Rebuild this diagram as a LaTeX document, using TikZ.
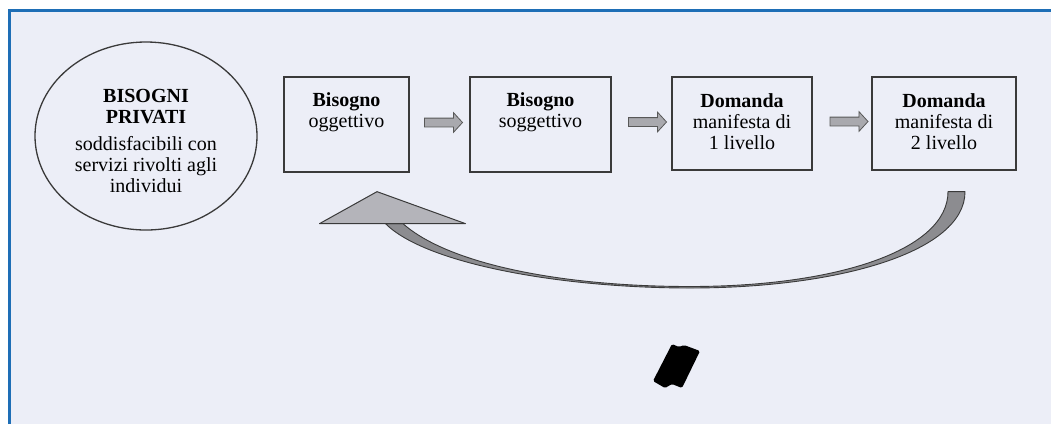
\documentclass[tikz,border=0pt]{standalone}
\usepackage{fontspec}
\setmainfont{Liberation Serif}
\usetikzlibrary{shapes.geometric, shapes.arrows, calc, positioning}
\definecolor{frameBlue}{HTML}{1E6EB6}
\definecolor{paneBg}{HTML}{ECEEF7}
\definecolor{edgeGray}{HTML}{3A3A3A}
\definecolor{arrowGray}{HTML}{A9A9AE}
\definecolor{loopGray}{HTML}{8C8C90}
\definecolor{headGray}{HTML}{B4B4BA}

\tikzset{
  needbox/.style={draw=edgeGray, line width=1.3pt, minimum height=95pt, inner sep=0pt},
  needtext/.style={anchor=north, align=center, inner sep=0pt,
    font=\fontsize{20}{21}\selectfont},
  blockarr/.style={single arrow, draw=edgeGray!85, fill=arrowGray, line width=0.8pt,
    minimum height=38pt, inner xsep=0pt, inner ysep=4pt, single arrow head extend=5.5pt,
    single arrow tip angle=95, text height=0pt, text depth=0pt}
}

\begin{document}
\begin{tikzpicture}[x=1pt, y=-1pt]
  \useasboundingbox (0,0) rectangle (1051,424);
  % panel
  \fill[paneBg] (8,10) rectangle (1051,424);
  \draw[frameBlue, line width=2.6pt] (9.3,424) -- (9.3,10.5) -- (1051,10.5);

  % private needs
  \node[ellipse, draw=edgeGray, line width=1.3pt, minimum width=222pt, minimum height=188pt] (privati) at (146,136) {};
  \node[needtext] (privatitext) at ([yshift=-48pt]privati.north)
    {\textbf{BISOGNI}\\\textbf{PRIVATI}\\[6pt]soddisfacibili con\\servizi rivolti agli\\individui};

  % chain of needs
  \node[needbox, minimum width=125pt] (b1) at (346.5,124.5) {};
  \node[needbox, minimum width=141pt] (b2) at (540.5,124.5) {};
  \node[needbox, minimum width=140pt, minimum height=93pt] (b3) at (742,123.5) {};
  \node[needbox, minimum width=144pt, minimum height=93pt] (b4) at (944,123.5) {};
  \node[needtext] (t1) at ([yshift=-16pt]b1.north) {\textbf{Bisogno}\\oggettivo};
  \node[needtext] (t2) at ([yshift=-16pt]b2.north) {\textbf{Bisogno}\\soggettivo};
  \node[needtext] (t3) at ([yshift=-17pt]b3.north) {\textbf{Domanda}\\manifesta di\\1 livello};
  \node[needtext] (t4) at ([yshift=-17pt]b4.north) {\textbf{Domanda}\\manifesta di\\2 livello};

  \path (b1) -- (b2) node[blockarr, midway, xshift=2pt, yshift=2pt] {};
  \path (b2) -- (b3) node[blockarr, midway, xshift=4pt, yshift=2pt] {};
  \path (b3) -- (b4) node[blockarr, midway, xshift=5pt, yshift=2pt] {};

  % feedback loop
  \coordinate (loopstart) at ([xshift=12pt, yshift=-21pt]b4.south);
  \coordinate (looptip) at ([xshift=30.5pt, yshift=-19pt]b1.south);
  \filldraw[fill=loopGray, draw=edgeGray, line width=0.9pt, line join=round]
    ([xshift=9pt]loopstart)
      .. controls +(0,60) and +(150,0) .. (690,288)
      .. controls +(-130,0) and +(40,40) .. ([xshift=8.5pt, yshift=-32pt]looptip)
      -- ([xshift=26pt, yshift=-32pt]looptip)
      .. controls +(45,40) and +(-130,0) .. (690,286.5)
      .. controls +(148,0) and +(0,58) .. ([xshift=-8pt]loopstart)
      -- cycle;
  \filldraw[fill=headGray, draw=edgeGray, line width=1pt, line join=round]
    (looptip) -- ([xshift=-57.5pt, yshift=-32pt]looptip)
    -- ([xshift=88.5pt, yshift=-32pt]looptip) -- cycle;

  % smudge
  \fill[black, rounded corners=1.5pt] (653,381) -- (672,344) -- (679,347) -- (684,345)
    -- (700,351) -- (682,388) -- (672,384) -- (665,388) -- cycle;
\end{tikzpicture}
\end{document}
